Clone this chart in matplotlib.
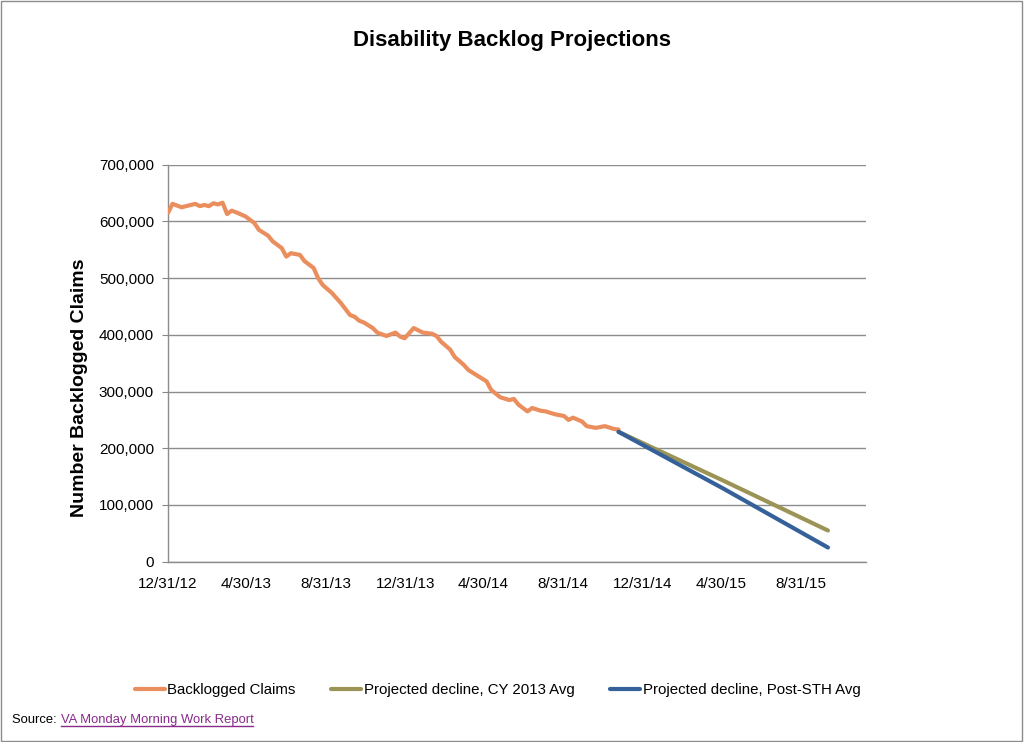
import numpy as np
import pandas as pd
import matplotlib
matplotlib.use("Agg")
import matplotlib.pyplot as plt
from matplotlib.patches import Rectangle
from matplotlib.lines import Line2D
from matplotlib.ticker import FuncFormatter

plt.rcParams['font.family'] = ['Liberation Sans', 'DejaVu Sans']

# Semana do relatorio (contada a partir de 31/12/2012) e valores
inicio = pd.Timestamp("2012-12-31")

semanas_backlog = [0, 1, 3, 5, 6, 7, 8, 9, 10, 11, 12, 13, 14, 15, 17, 19, 20, 22, 23,
                   25, 26, 27, 29, 30, 32, 33, 34, 36, 38, 40, 41, 42, 43, 45, 46, 48,
                   50, 51, 52, 54, 56, 58, 59, 60, 62, 63, 65, 66, 68, 70, 71, 73, 75,
                   76, 77, 79, 80, 82, 83, 85, 87, 88, 89, 91, 92, 94, 96, 98, 99]
backlog = [615, 631, 625, 629, 631, 627, 629, 627, 632, 630, 633, 613, 619, 616, 609,
           597, 585, 575, 565, 553, 538, 544, 541, 530, 518, 500, 488, 474, 456, 435,
           432, 425, 422, 412, 404, 398, 404, 397, 394, 412, 404, 402, 398, 388, 374,
           361, 347, 338, 328, 318, 303, 290, 285, 287, 277, 265, 271, 266, 265, 260,
           257, 250, 254, 247, 239, 236, 239, 234, 233]

semanas_proj = [99, 122, 145]
proj_cy2013 = [229, 143, 55]
proj_pos_sth = [229, 129, 25]

ticks_x = ["12/31/12", "4/30/13", "8/31/13", "12/31/13", "4/30/14",
           "8/31/14", "12/31/14", "4/30/15", "8/31/15"]
ticks_y = [0, 100000, 200000, 300000, 400000, 500000, 600000, 700000]

cor_laranja = "#EB8E5E"
cor_oliva = "#9B9456"
cor_azul = "#35619B"

def para_datas(semanas):
    return inicio + pd.to_timedelta(np.array(semanas) * 7, unit="D")

fig = plt.figure(figsize=(10.24, 7.42), dpi=100)
ax = fig.add_axes([0.164, 0.243, 0.682, 0.535])

ax.plot(para_datas(semanas_backlog), np.array(backlog) * 1000, color=cor_laranja,
        lw=3, solid_capstyle="round", solid_joinstyle="round", label="Backlogged Claims", zorder=3)
ax.plot(para_datas(semanas_proj), np.array(proj_cy2013) * 1000, color=cor_oliva,
        lw=3, solid_capstyle="round", label="Projected decline, CY 2013 Avg", zorder=3)
ax.plot(para_datas(semanas_proj), np.array(proj_pos_sth) * 1000, color=cor_azul,
        lw=3, solid_capstyle="round", label="Projected decline, Post-STH Avg", zorder=4)

datas_ticks = pd.to_datetime(ticks_x, format="%m/%d/%y")
ax.set_xticks(datas_ticks)
ax.set_xticklabels(ticks_x, fontsize=11)
ax.set_xlim(inicio, pd.Timestamp("2015-12-10"))
ax.tick_params(axis="x", length=0, pad=11)

ax.set_yticks(ticks_y)
ax.set_ylim(0, 700000)
ax.yaxis.set_major_formatter(FuncFormatter(lambda v, p: f"{int(v):,}"))
ax.tick_params(axis="y", labelsize=11, length=4, color="#888888", pad=6)
ax.grid(axis="y", color="#8c8c8c", lw=1)
ax.set_axisbelow(True)

for lado in ["top", "right"]:
    ax.spines[lado].set_visible(False)
for lado in ["left", "bottom"]:
    ax.spines[lado].set_color("#8c8c8c")
    ax.spines[lado].set_linewidth(1)

ax.set_ylabel("Number Backlogged Claims", fontsize=14, fontweight="bold")
ax.yaxis.set_label_coords(-0.114, 0.438)

fig.text(0.5, 0.946, "Disability Backlog Projections", ha="center", va="center",
         fontsize=16, fontweight="bold")

fig.legend(loc="center", bbox_to_anchor=(0.486, 0.07), ncol=3, frameon=False,
           fontsize=10.8, handlelength=2.0, handletextpad=0.15, columnspacing=2.4)

# Fonte com link sublinhado
t1 = fig.text(0.012, 0.026, "Source: ", fontsize=9.4, va="baseline")
fig.canvas.draw()
bb = t1.get_window_extent()
x_link = bb.x1 / fig.bbox.width
t2 = fig.text(x_link, 0.026, "VA Monday Morning Work Report", fontsize=9.4,
              va="baseline", color="#8A2B8C")
fig.canvas.draw()
bb2 = t2.get_window_extent()
y_sub = 0.026 - 3 / fig.bbox.height
fig.add_artist(Line2D([x_link, bb2.x1 / fig.bbox.width], [y_sub, y_sub],
                      transform=fig.transFigure, color="#8A2B8C", lw=1))

# Borda do grafico
fig.add_artist(Rectangle((0.001, 0.001), 0.997, 0.997, transform=fig.transFigure,
                         fill=False, edgecolor="#8c8c8c", lw=1))

plt.savefig("out.png", dpi=100)
